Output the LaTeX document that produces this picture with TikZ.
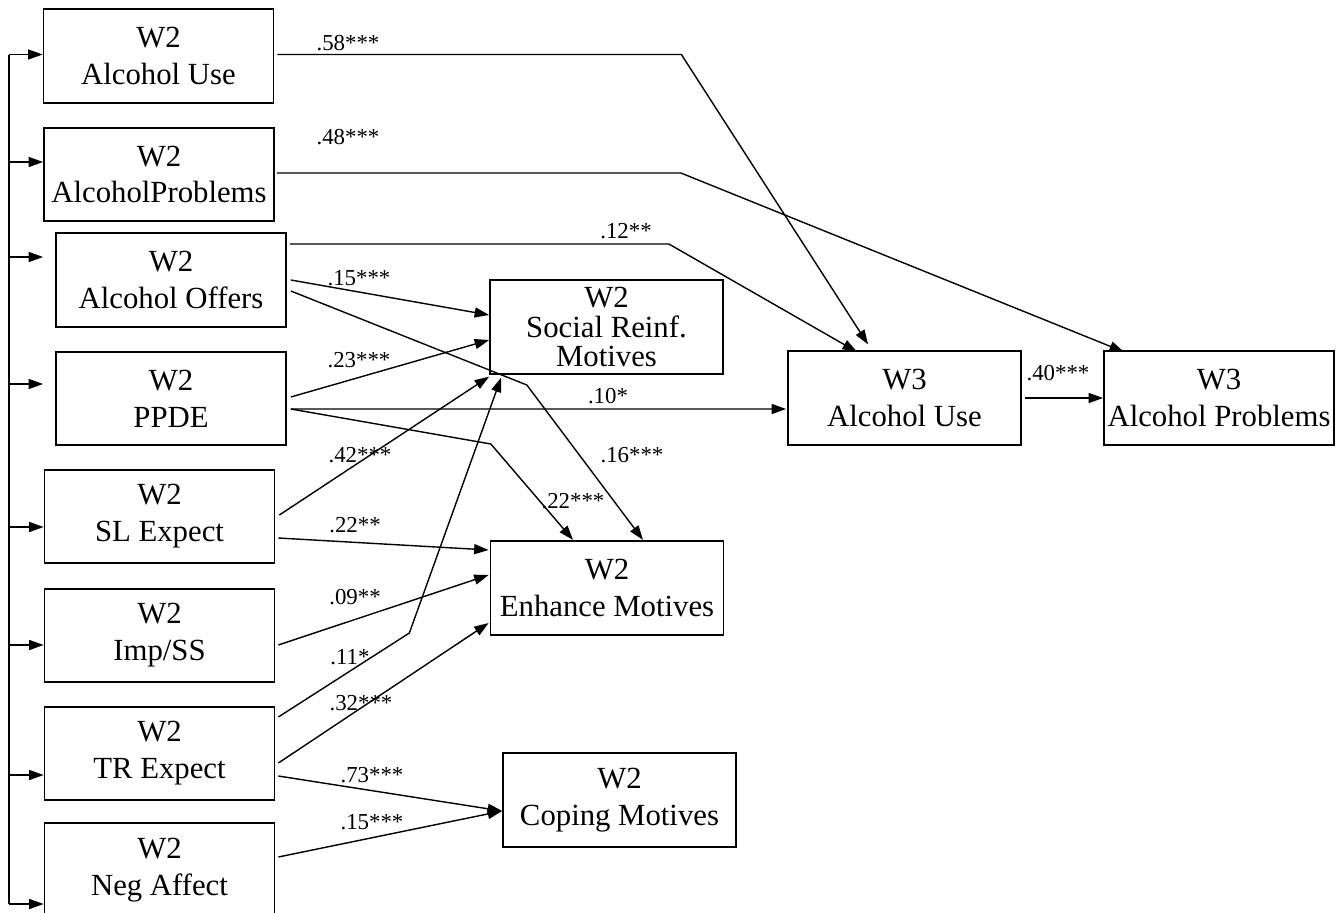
\documentclass[tikz,border=0pt]{standalone}
\usepackage{fontspec}
\setmainfont{Liberation Serif}
\usetikzlibrary{arrows.meta}

\begin{document}
\begin{tikzpicture}[x=0.02cm, y=-0.02cm, line width=0.8pt,
   box/.style={draw=black, line width=1pt, rectangle, minimum width=4.6cm, minimum height=1.87cm,
      inner sep=0pt, align=center, font=\fontsize{17.5}{21}\selectfont},
   wide/.style={minimum width=4.66cm},
   path_style/.style={draw=black, -{Triangle[length=0.29cm, width=0.2cm]}},
   coef/.style={inner sep=0pt, font=\fontsize{13}{15}\selectfont}]
	\useasboundingbox (0,0) rectangle (1343,913);

	% wave 2 predictors
	\node [box] (au2) at (158.5,56)  {W2\\Alcohol Use};
	\node [box] (ap2) at (159,174.5) {W2\\AlcoholProblems};
	\node [box] (ao2) at (171,280)   {W2\\Alcohol Offers};
	\node [box] (pp2) at (171,398.5) {W2\\PPDE};
	\node [box] (sl2) at (159.5,516.5) {W2\\SL Expect};
	\node [box] (is2) at (159.5,635.5) {W2\\Imp/SS};
	\node [box] (tr2) at (159.5,753.5) {W2\\TR Expect};
	\node [box] (na2) at (159.5,870)   {W2\\Neg Affect};

	% motives and wave 3 outcomes
	\node [box, wide, font=\fontsize{17.5}{17}\selectfont] (sr2) at (606.5,327) {W2\\Social Reinf.\\Motives};
	\node [box, wide] (em2) at (607,588)   {W2\\Enhance Motives};
	\node [box, wide] (cm2) at (619.5,800) {W2\\Coping Motives};
	\node [box, wide] (au3) at (904.5,398) {W3\\Alcohol Use};
	\node [box]       (ap3) at (1219,398)  {W3\\Alcohol Problems};

	% correlation bus on the left
	\coordinate (bustop) at (9,55);
	\coordinate (busbot) at (9,904);
	\draw (bustop) -- (busbot);
	\foreach \b/\dx/\dy in {au2/0/-1.5, ap2/0/-12.5, ao2/-12/-23, pp2/-12/-14.5,
		sl2/0/10.5, is2/0/9.5, tr2/0/21.5, na2/0/34} {
	  \path ([shift={(\dx,\dy)}]\b.west) coordinate (tip);
	  \draw [path_style] (tip -| bustop) -- (tip);
	}

	% paths
	\draw [path_style] ([shift={(3,-1.5)}]au2.east) -- ++(404,0) -- ([shift={(-36.5,-6)}]au3.north);
	\draw [path_style] ([shift={(2,-1.5)}]ap2.east) -- ++(404,0) -- ([shift={(-95,1.5)}]ap3.north);
	\draw [path_style] ([shift={(3,-36)}]ao2.east) -- ++(379,0) -- ([shift={(-47.5,1.5)}]au3.north);
	\draw [path_style] ([shift={(4,0)}]ao2.east) -- ([shift={(0,-12)}]sr2.west);
	\draw [path_style] ([shift={(4,11)}]ao2.east) -- ++(236,94) -- ([shift={(36,-0.5)}]em2.north);
	\draw [path_style] ([shift={(4,-1.5)}]pp2.east) -- ([shift={(0,13)}]sr2.west);
	\draw [path_style] ([shift={(4,10.5)}]pp2.east) -- ([shift={(-1,11)}]au3.west);
	\draw [path_style] ([shift={(4,10.5)}]pp2.east) -- ++(200,35) -- ([shift={(-34,-0.5)}]em2.north);
	\draw [path_style] ([shift={(4,-1.5)}]sl2.east) -- ([shift={(0,2)}]sr2.south west);
	\draw [path_style] ([shift={(3,21.5)}]sl2.east) -- ([shift={(-1,-38)}]em2.west);
	\draw [path_style] ([shift={(3,9.5)}]is2.east) -- ([shift={(-1,-13)}]em2.west);
	\draw [path_style] ([shift={(3,-36.5)}]tr2.east) -- ++(131,-84) -- ([shift={(12,3)}]sr2.south west);
	\draw [path_style] ([shift={(3,9.5)}]tr2.east) -- ([shift={(-1,35)}]em2.west);
	\draw [path_style] ([shift={(3,22.5)}]tr2.east) -- ([shift={(0,11)}]cm2.west);
	\draw [path_style] ([shift={(3,-13)}]na2.east) -- ([shift={(0,11)}]cm2.west);
	\draw [path_style] ([shift={(3,0)}]au3.east) -- ([shift={(0,0)}]ap3.west);

	% coefficients
	\node [coef] (c58) at (348,43)   {.58***};
	\node [coef] (c48) at (348,137)  {.48***};
	\node [coef] (c12) at (626,231)  {.12**};
	\node [coef] (c15a) at (359,278) {.15***};
	\node [coef] (c23) at (359,360)  {.23***};
	\node [coef] (c10) at (608,396)  {.10*};
	\node [coef] (c16) at (632,455)  {.16***};
	\node [coef] (c42) at (360,455)  {.42***};
	\node [coef] (c22a) at (573,501) {.22***};
	\node [coef] (c22b) at (355,525) {.22**};
	\node [coef] (c09) at (355,597)  {.09**};
	\node [coef] (c11) at (350,657)  {.11*};
	\node [coef] (c32) at (361,703)  {.32***};
	\node [coef] (c73) at (372,775)  {.73***};
	\node [coef] (c15b) at (372,822) {.15***};
	\node [coef] (c40) at (1058,373) {.40***};

\end{tikzpicture}
\end{document}
